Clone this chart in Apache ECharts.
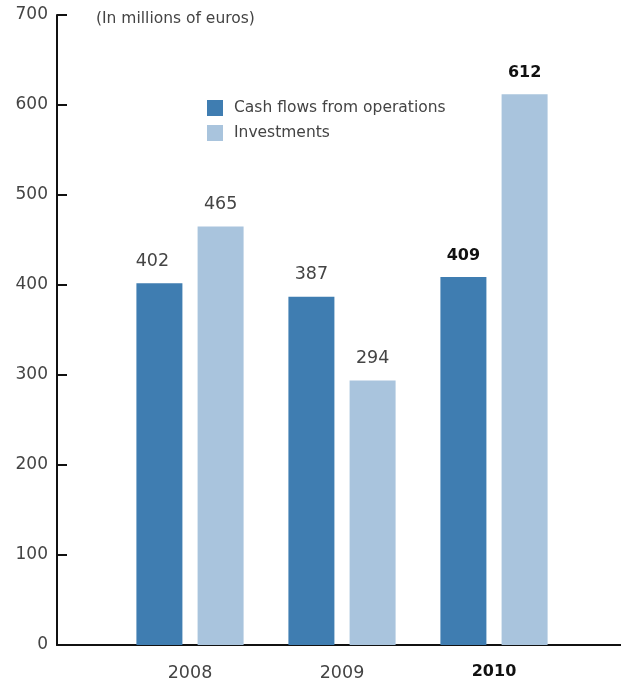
<!DOCTYPE html>
<html>
<head>
<meta charset="utf-8">
<script src="https://cdn.jsdelivr.net/npm/echarts@6/dist/echarts.min.js"></script>
<style>
html,body{margin:0;padding:0;background:#fff;}
#c{width:621px;height:683px;}
</style>
</head>
<body>
<div id="c"></div>
<script>
const categories = ['2008', '2009', '2010'];
const cashFlows = [402, 387, 409];
const investments = [465, 294, 612];
const seriesNames = ['Cash flows from operations', 'Investments'];
const yTicks = [0, 100, 200, 300, 400, 500, 600, 700];
const unitLabel = '(In millions of euros)';

const FONT = '"DejaVu Sans", sans-serif';
const DARK = '#3f7db1';
const LIGHT = '#a9c4dd';
const TEXT = '#444';

function labelFor() {
  return {
    show: true,
    position: 'top',
    distance: 13,
    fontFamily: FONT,
    fontSize: 17.5,
    color: TEXT,
    formatter: function (p) { return p.dataIndex === 2 ? '{b|' + p.value + '}' : p.value; },
    rich: { b: { fontFamily: FONT, fontSize: 16, fontWeight: 'bold', color: '#111' } }
  };
}

const cashData = cashFlows.map(function (v, i) {
  return i === 0 ? { value: v, label: { offset: [-7, 0] } } : v;
});

const chart = echarts.init(document.getElementById('c'));
chart.setOption({
  animation: false,
  title: {
    text: unitLabel,
    left: 91, top: 6,
    textStyle: { fontFamily: FONT, fontSize: 15.5, fontWeight: 'normal', color: TEXT }
  },
  legend: {
    orient: 'vertical',
    left: 202, top: 95,
    itemWidth: 16, itemHeight: 16, itemGap: 9,
    icon: 'rect',
    textStyle: { fontFamily: FONT, fontSize: 15.5, color: TEXT, padding: [0, 0, 0, 6] },
    data: seriesNames
  },
  grid: [
    { left: 57, right: 0, top: 15, bottom: 38 },
    { left: 114, width: 456, top: 15, bottom: 38 }
  ],
  xAxis: [
    {
      gridIndex: 0, type: 'category', data: categories,
      axisLine: { show: true, lineStyle: { color: '#111', width: 2 } },
      axisTick: { show: false }, axisLabel: { show: false }
    },
    {
      gridIndex: 1, type: 'category', data: categories,
      axisLine: { show: false }, axisTick: { show: false },
      axisLabel: {
        margin: 19, fontFamily: FONT, fontSize: 17.5, color: TEXT,
        formatter: function (v, i) { return i === 2 ? '{b|' + v + '}' : v; },
        rich: { b: { fontFamily: FONT, fontSize: 16, fontWeight: 'bold', color: '#111' } }
      }
    }
  ],
  yAxis: [
    {
      gridIndex: 0, type: 'value', min: yTicks[0], max: yTicks[yTicks.length - 1], interval: 100,
      axisLine: { show: true, lineStyle: { color: '#111', width: 2 } },
      axisTick: { show: true, inside: true, length: 10, lineStyle: { color: '#111', width: 2 } },
      axisLabel: { margin: 9, fontFamily: FONT, fontSize: 17, color: TEXT },
      splitLine: { show: false }
    },
    {
      gridIndex: 1, type: 'value', min: yTicks[0], max: yTicks[yTicks.length - 1], interval: 100,
      show: false, splitLine: { show: false }
    }
  ],
  series: [
    {
      name: seriesNames[0], type: 'bar', xAxisIndex: 1, yAxisIndex: 1,
      data: cashData, barWidth: 46, barGap: '33%',
      itemStyle: { color: DARK }, label: labelFor()
    },
    {
      name: seriesNames[1], type: 'bar', xAxisIndex: 1, yAxisIndex: 1,
      data: investments, barWidth: 46, barGap: '33%',
      itemStyle: { color: LIGHT }, label: labelFor()
    }
  ]
});
</script>
</body>
</html>
